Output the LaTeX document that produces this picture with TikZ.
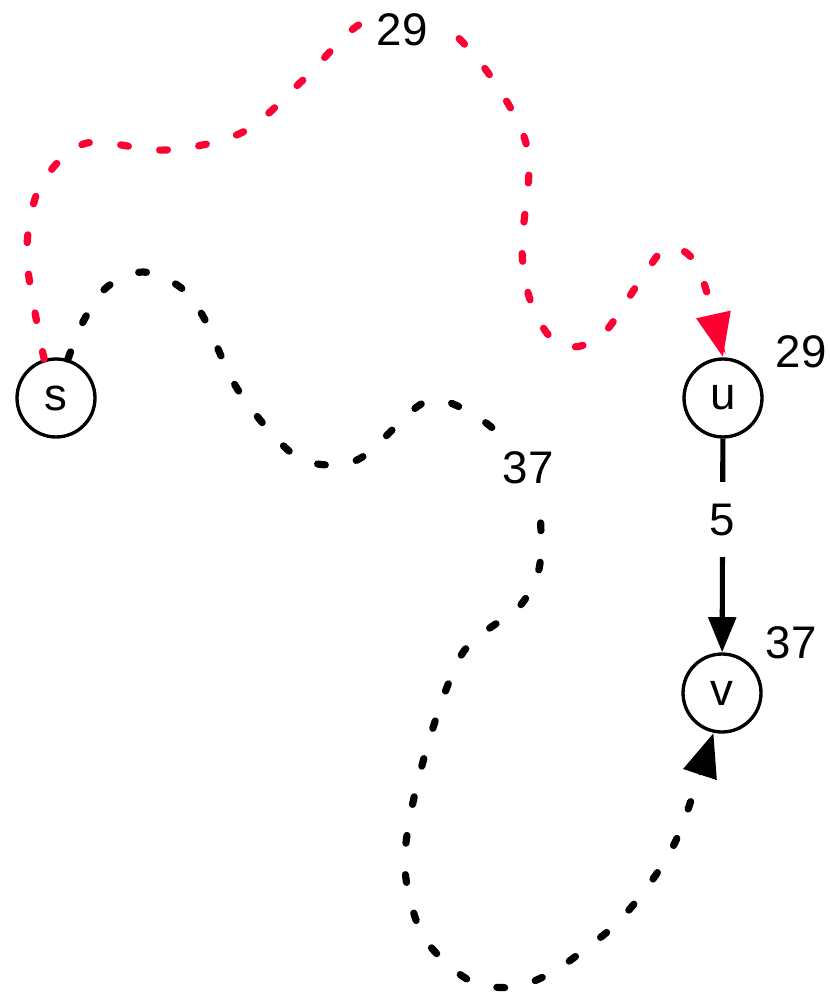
\documentclass[tikz,border=0pt]{standalone}
\usepackage{fontspec}
\setmainfont{Liberation Sans}
\usetikzlibrary{arrows.meta}
\definecolor{pathred}{RGB}{255,0,51}
\tikzset{
  x=0.02cm, y=-0.02cm,
  vertex/.style={circle, draw=black, line width=1.9pt, minimum size=1.56cm, inner sep=0pt,
    font=\fontsize{26}{30}\selectfont},
  lbl/.style={fill=white, inner sep=0pt, minimum width=1.52cm, minimum height=1.5cm,
    font=\fontsize{26}{30}\selectfont},
  plainlbl/.style={inner sep=0pt, font=\fontsize{26}{30}\selectfont},
  walk/.style={line width=4.1pt, line cap=round, dash pattern=on 4.4pt off 18pt},
  bigtip/.style={-{Triangle[length=25pt,width=19pt]}},
}
\begin{document}
\begin{tikzpicture}
\useasboundingbox (0,0) rectangle (829,996);
\node[vertex] (s) at (56,398) {s};
\node[vertex] (u) at (723,398) {u};
\node[vertex] (v) at (722,693) {v};

\draw[walk, pathred, bigtip] plot[smooth, tension=0.55] coordinates {
  (s.107) (28,270) (30,220) (45,178) (87,143) (166,150) (243,132) (303,80)
  (357,26) (402,13) (445,26) (493,80) (528,152) (522,250) (533,308) (560,345)
  (600,337) (640,281) (667,248) (698,267) (u.north)};

\draw[walk, black, bigtip] plot[smooth, tension=0.55] coordinates {
  (s.73) (84,320) (107,287) (143,272) (180,287) (204,318) (238,390) (289,451)
  (327,465) (364,456) (423,403) (462,408) (505,440) (535,490) (541,533)
  (538,573) (519,607) (486,631) (459,659) (431,734) (411,812) (405,870)
  (419,928) (443,960) (475,983) (514,987) (551,973) (584,950) (615,925)
  (642,894) (664,862) (682,826) (v.258)};

\draw[line width=2.9pt, -{Triangle[length=20pt,width=15.5pt]}] (u) -- node[lbl, pos=0.38] (l5) {5} (v);

\node[lbl] (l29a) at (402,30) {29};
\node[lbl] (l37a) at (528,468) {37};
\node[plainlbl] (l29u) at (801,352) {29};
\node[plainlbl] (l37v) at (791,643) {37};
\end{tikzpicture}
\end{document}
